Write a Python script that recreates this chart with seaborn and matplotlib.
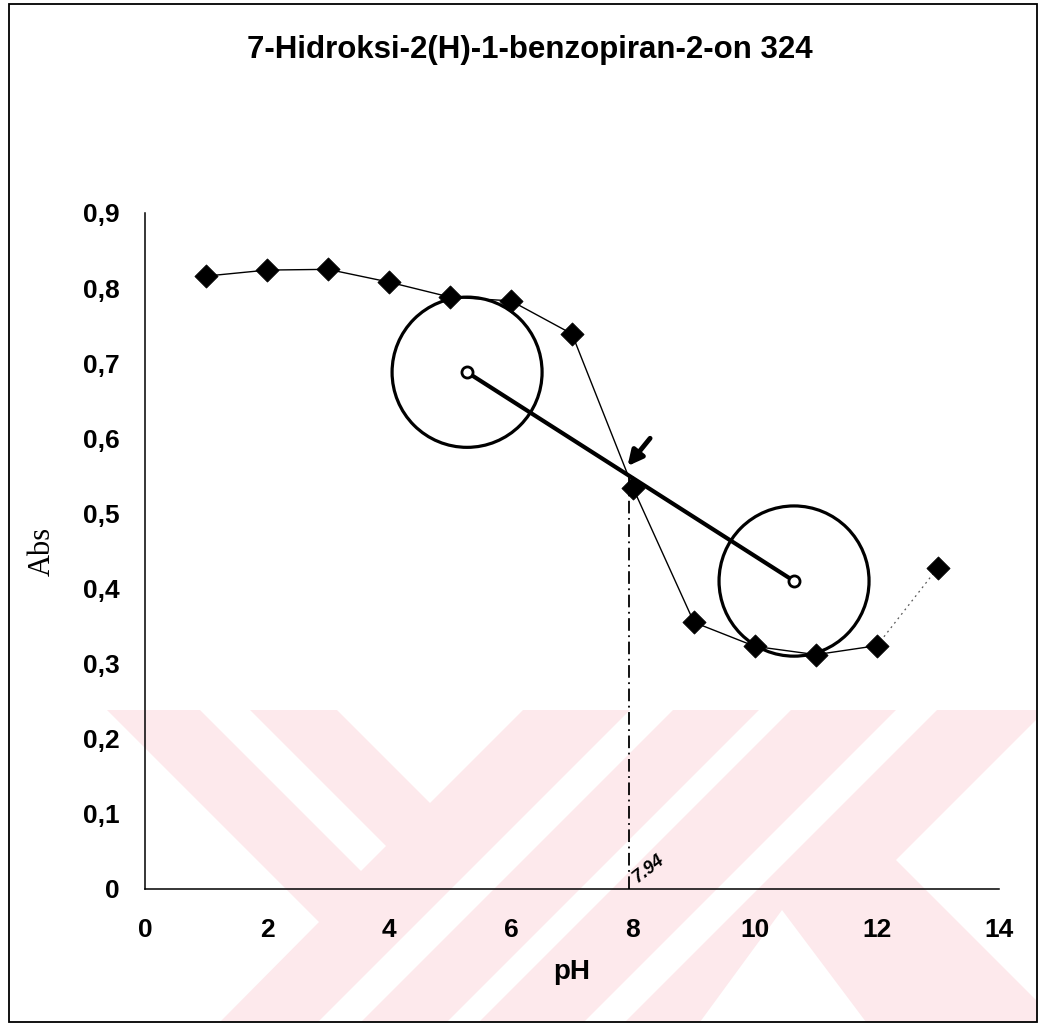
import numpy as np
import pandas as pd
import matplotlib
matplotlib.use("Agg")
import matplotlib.pyplot as plt
import seaborn as sns
from matplotlib.patches import Ellipse, Polygon, Rectangle

# ---------------- data ----------------
ph = [1, 2, 3, 4, 5, 6, 7, 8, 9, 10, 11, 12, 13]
absorbance = [0.816, 0.824, 0.825, 0.808, 0.788, 0.783, 0.739,
              0.534, 0.355, 0.323, 0.312, 0.324, 0.428]
center_ph = [5.28, 10.64]
center_abs = [0.688, 0.410]
pka_ph = 7.94
pka_label = "7.94"
x_ticks = [0, 2, 4, 6, 8, 10, 12, 14]
y_ticks = [0, 0.1, 0.2, 0.3, 0.4, 0.5, 0.6, 0.7, 0.8, 0.9]
y_tick_labels = ["0", "0,1", "0,2", "0,3", "0,4", "0,5", "0,6", "0,7", "0,8", "0,9"]
title = "7-Hidroksi-2(H)-1-benzopiran-2-on 324"
x_label = "pH"
y_label = "Abs"

df = pd.DataFrame({"pH": ph, "Abs": absorbance})

# ---------------- style ----------------
sns.set_theme(style="white")
plt.rcParams["font.family"] = ["Liberation Sans", "DejaVu Sans"]

W, H = 1039, 1025
fig = plt.figure(figsize=(W / 100, H / 100), dpi=100)
fig.patch.set_facecolor("white")


def px(x, y):
    return (x / W, 1 - y / H)


# watermark (faint pink background shapes)
pink = "#fde9ec"
wm_pink = [[(107, 710), (1037, 710), (1037, 1022), (220, 1022), (319, 922)]]
wm_white = [
    [(200, 710), (250, 710), (386, 846), (361, 871)],
    [(337, 710), (523, 710), (430, 803)],
    [(318, 1022), (361, 1022), (673, 710), (630, 710)],
    [(447, 1022), (479, 1022), (791, 710), (759, 710)],
    [(584, 1022), (625, 1022), (937, 710), (896, 710)],
    [(896, 860), (1037, 719), (1037, 1001)],
    [(782, 910), (700, 1022), (866, 1022)],
]
for poly in wm_pink:
    fig.add_artist(Polygon([px(*p) for p in poly], closed=True, transform=fig.transFigure,
                           facecolor=pink, edgecolor="none", zorder=-3))
for poly in wm_white:
    fig.add_artist(Polygon([px(*p) for p in poly], closed=True, transform=fig.transFigure,
                           facecolor="white", edgecolor="none", zorder=-2))

# frame around the whole chart
fig.add_artist(Rectangle(px(9, 1022), (1037 - 9) / W, (1022 - 4) / H, transform=fig.transFigure,
                         fill=False, edgecolor="black", lw=1.3, zorder=5))

ax = fig.add_axes([145 / W, 1 - 889 / H, (999 - 145) / W, (889 - 213) / H])
ax.set_facecolor("none")

# data line and markers
sns.lineplot(data=df.iloc[:12], x="pH", y="Abs", color="black", lw=1.0, ax=ax, zorder=3)
ax.plot(df["pH"].iloc[11:], df["Abs"].iloc[11:], color="0.35", lw=0.9, ls=(0, (1.5, 3)), zorder=3)
sns.scatterplot(data=df, x="pH", y="Abs", marker="D", s=140, color="black",
                edgecolor="black", linewidth=0.5, ax=ax, zorder=4)

# circles and connecting line
cw = 150 / 61.0
ch = 0.2
for cx, cy in zip(center_ph, center_abs):
    ax.add_patch(Ellipse((cx, cy), cw, ch, fill=False, edgecolor="black", lw=2.3, zorder=3))
ax.plot(center_ph, center_abs, color="black", lw=3.0, zorder=3, solid_capstyle="round")
ax.plot(center_ph, center_abs, ls="none", marker="o", ms=8, mfc="white", mec="black", mew=2, zorder=5)

# vertical dash-dot line at pKa
y_int = center_abs[0] + (pka_ph - center_ph[0]) * (center_abs[1] - center_abs[0]) / (center_ph[1] - center_ph[0])
ax.plot([pka_ph, pka_ph], [0, y_int], color="black", lw=1.3, ls=(0, (7, 2.5, 1, 2.5)), zorder=3)

# arrow
ax.annotate("", xy=(pka_ph - 0.03, y_int + 0.013), xytext=(pka_ph + 0.34, y_int + 0.05),
            arrowprops=dict(arrowstyle="-|>", lw=3.5, color="black", mutation_scale=22,
                            shrinkA=0, shrinkB=0), zorder=6)

# handwritten pKa value
ax.text(pka_ph + 0.17, 0.004, pka_label, rotation=38, rotation_mode="anchor",
        ha="left", va="bottom", fontsize=13, fontweight="bold", style="italic",
        color="black", zorder=6)

# axes
ax.set_xlim(0, 14)
ax.set_ylim(0, 0.9)
ax.set_xticks(x_ticks)
ax.set_xticklabels([str(t) for t in x_ticks])
ax.set_yticks(y_ticks)
ax.set_yticklabels(y_tick_labels)
for s in ["top", "right"]:
    ax.spines[s].set_visible(False)
for s in ["left", "bottom"]:
    ax.spines[s].set_color("black")
    ax.spines[s].set_linewidth(1.1)
ax.tick_params(axis="both", direction="out", length=5, width=1.1, color="black",
               labelsize=19, labelcolor="black")
ax.tick_params(axis="y", pad=13)
ax.tick_params(axis="x", pad=16)
for lab in ax.get_xticklabels() + ax.get_yticklabels():
    lab.set_fontweight("bold")
ax.grid(False)

ax.set_xlabel(x_label, fontsize=20, fontweight="bold", color="black")
ax.xaxis.set_label_coords(0.5, -0.103)
ax.set_ylabel(y_label, fontsize=22, family=["Liberation Serif", "DejaVu Serif"], color="black")
ax.yaxis.set_label_coords(-0.103, 0.5)

fig.text(530 / W, 1 - 50 / H, title, ha="center", va="center", fontsize=22.5,
         fontweight="bold", color="black")

fig.savefig("out.png", dpi=100)
